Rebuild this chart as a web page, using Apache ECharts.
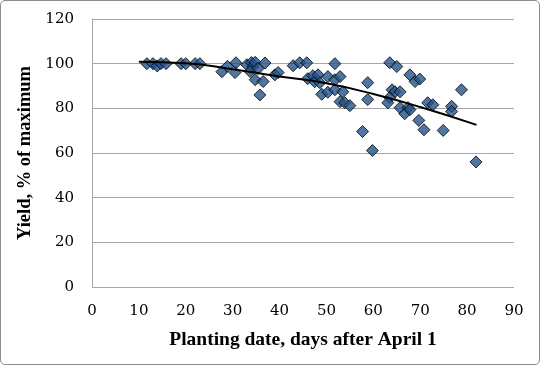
<!DOCTYPE html>
<html>
<head>
<meta charset="utf-8">
<script src="https://cdn.jsdelivr.net/npm/echarts@6/dist/echarts.min.js"></script>
<style>
html,body{margin:0;padding:0;background:#fff;}
#wrap{width:540px;height:365px;box-sizing:border-box;border:1px solid #8c8c8c;border-radius:5px;overflow:hidden;}
#c{width:538px;height:363px;}
</style>
</head>
<body>
<div id="wrap"><div id="c"></div></div>
<script>
// Planting date (days after April 1)
var plantDays = [11.7,13,13.9,14.7,15.8,19,20,22,23,
  27.7,28.9,30.7,30.5,33,34,34.3,34.8,33.7,34.8,35.4,36.5,36.9,35.8,39,39.7,
  42.9,44.3,45.8,46,47.1,47.5,48.2,48.6,49,50.3,50.3,51.8,51.8,51.8,52.9,53.5,52.9,53.9,55,
  58.8,58.8,57.7,59.8,63.5,65,64,64.6,65.7,63.5,63.1,65.7,67.4,66.7,67.8,67.8,68.9,69.9,
  69.7,70.8,71.6,72.7,74.9,76.7,76.7,78.8,81.9];
// Yield, % of maximum
var yieldPct = [100,100,99,100,100,100,100,100,100,
  96.4,98.8,100.4,96,99.5,100.5,98.7,100.6,96.5,92.8,97.8,92,100.3,86,95,96,
  99.1,100.4,100.4,93.3,94.6,91.9,95,91.5,86.3,87.2,94.2,100,92.8,88.3,94.2,87.4,83,82.5,81.2,
  91.5,83.9,69.6,61.1,100.4,98.7,88.3,87.4,87.4,84.8,82.5,80.3,80.3,77.6,79.4,95,92,93.1,
  74.6,70.4,82.5,81.6,70.1,80.9,78.6,88.3,56];
// Trend line
var trendX = [10,20,30,40,50,60,70,82];
var trendY = [100.9,100.2,97.5,94.3,91.2,86.4,80.6,72.6];
var xTicks = [0,10,20,30,40,50,60,70,80,90];
var yTicks = [0,20,40,60,80,100,120];

var pts = plantDays.map(function(d,i){return [d, yieldPct[i]];});
var trend = trendX.map(function(d,i){return [d, trendY[i]];});

var chart = echarts.init(document.getElementById('c'));
var ff = 'DejaVu Serif';
var tf = 'Liberation Serif';
chart.setOption({
  animation:false,
  grid:{left:91,right:25,top:18,bottom:77},
  xAxis:{type:'value',min:0,max:90,interval:10,
    name:'Planting date, days after April 1',nameLocation:'middle',nameGap:43,
    nameTextStyle:{fontFamily:tf,fontWeight:'bold',fontSize:19.5,color:'#000'},
    axisLine:{show:false},axisTick:{show:false},splitLine:{show:false},
    axisLabel:{fontFamily:ff,fontSize:15,color:'#000',margin:17}},
  yAxis:{type:'value',min:0,max:120,interval:20,
    name:'Yield, % of maximum',nameLocation:'middle',nameGap:55,
    nameTextStyle:{fontFamily:tf,fontWeight:'bold',fontSize:18.5,color:'#000'},
    axisLine:{show:true,lineStyle:{color:'#a6a6a6',width:1}},axisTick:{show:false},
    splitLine:{show:true,lineStyle:{color:'#a6a6a6',width:1}},
    axisLabel:{fontFamily:ff,fontSize:15,color:'#000',margin:18}},
  series:[
    {type:'line',data:trend,smooth:true,symbol:'none',lineStyle:{color:'#000',width:2},z:3},
    {type:'scatter',data:pts,symbol:'diamond',symbolSize:[12,12],
      itemStyle:{color:'#23528a',borderColor:'#000',borderWidth:1},z:2}
  ]
});
</script>
</body>
</html>
